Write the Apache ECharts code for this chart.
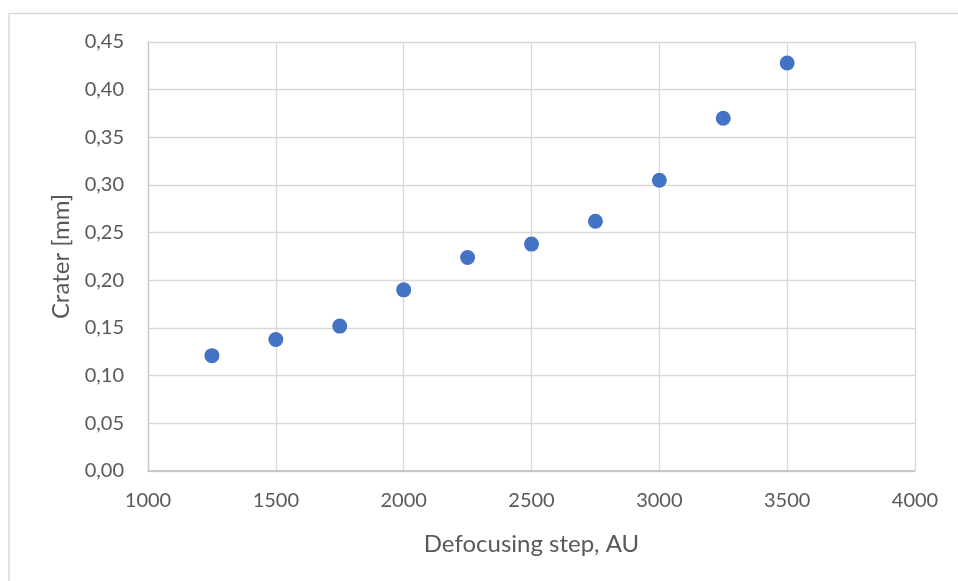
<!DOCTYPE html>
<html>
<head>
<meta charset="utf-8">
<script src="https://cdn.jsdelivr.net/npm/echarts@6/dist/echarts.min.js"></script>
<style>
html,body{margin:0;padding:0;background:#fff;}
#c{width:958px;height:581px;}
</style>
</head>
<body>
<div id="c"></div>
<script>
var xValues = [1250, 1500, 1750, 2000, 2250, 2500, 2750, 3000, 3250, 3500];
var craterValues = [0.121, 0.138, 0.152, 0.190, 0.224, 0.238, 0.262, 0.305, 0.370, 0.428];
var xTitle = 'Defocusing step, AU';
var yTitle = 'Crater [mm]';

var chart = echarts.init(document.getElementById('c'), null, {renderer: 'canvas'});
var font = 'Lato, "Open Sans", sans-serif';
var data = xValues.map(function (x, i) { return [x, craterValues[i]]; });

chart.setOption({
  animation: false,
  backgroundColor: '#fff',
  graphic: [{
    type: 'rect',
    shape: {x: 9, y: 13.5, width: 1100, height: 1100},
    style: {fill: 'none', stroke: '#d9d9d9', lineWidth: 1.5},
    silent: true
  }],
  grid: {left: 148, top: 42, right: 43, bottom: 110, containLabel: false},
  xAxis: {
    type: 'value',
    min: 1000, max: 4000, interval: 500,
    name: xTitle,
    nameLocation: 'middle',
    nameGap: 61,
    nameTextStyle: {color: '#595959', fontSize: 24, fontFamily: font},
    axisLine: {show: true, lineStyle: {color: '#bfbfbf', width: 1.5}},
    axisTick: {show: false},
    axisLabel: {
      color: '#595959', fontSize: 20, fontFamily: font, margin: 20,
      formatter: function (v) { return String(v); }
    },
    splitLine: {show: true, lineStyle: {color: '#d9d9d9', width: 1.3}}
  },
  yAxis: {
    type: 'value',
    min: 0, max: 0.45, interval: 0.05,
    name: yTitle,
    nameLocation: 'middle',
    nameGap: 75,
    nameRotate: 90,
    nameTextStyle: {color: '#595959', fontSize: 24, fontFamily: font},
    axisLine: {show: true, lineStyle: {color: '#c8c8c8', width: 1.3}},
    axisTick: {show: false},
    axisLabel: {
      color: '#595959', fontSize: 20, fontFamily: font, margin: 24,
      formatter: function (v) { return v.toFixed(2).replace('.', ','); }
    },
    splitLine: {show: true, lineStyle: {color: '#d9d9d9', width: 1.3}}
  },
  series: [{
    type: 'scatter',
    data: data,
    symbol: 'circle',
    symbolSize: 15,
    itemStyle: {color: '#4472c4', opacity: 1}
  }]
});
</script>
</body>
</html>
